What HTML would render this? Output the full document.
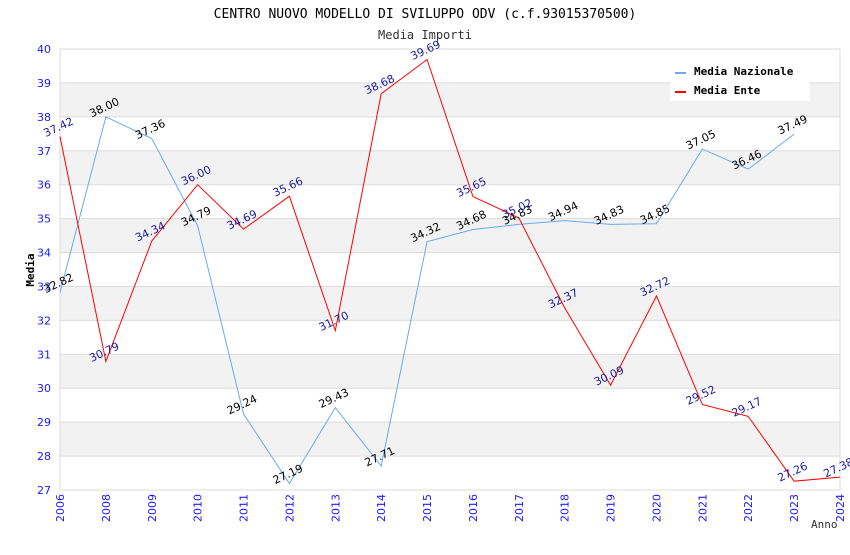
<!DOCTYPE html>
<html><head><meta charset="utf-8"><style>
body{margin:0;background:#fff;}
</style></head><body>
<svg id="chart" width="850" height="550" xmlns="http://www.w3.org/2000/svg">
<text x="425" y="18" text-anchor="middle" font-size="13" fill="#000" style="font-family:'DejaVu Sans Mono',monospace">CENTRO NUOVO MODELLO DI SVILUPPO ODV (c.f.93015370500)</text>
<text x="425" y="39" text-anchor="middle" font-size="12" fill="#333" style="font-family:'DejaVu Sans Mono',monospace">Media Importi</text>
<g id="bands"></g><g id="grid"></g><g id="axes"></g><g id="lines"></g><g id="labels"></g>
<g style="font-family:'DejaVu Sans Mono',monospace">
<rect x="670" y="58" width="140" height="43" fill="#fff"/>
<line x1="675" y1="73" x2="686" y2="73" stroke="#6aaaf0" stroke-width="2"/>
<text x="694" y="75" font-size="11" font-weight="bold">Media Nazionale</text>
<line x1="675" y1="92" x2="686" y2="92" stroke="#ff0000" stroke-width="2"/>
<text x="694" y="94" font-size="11" font-weight="bold">Media Ente</text>
</g>
<text transform="translate(34,270) rotate(-90)" text-anchor="middle" font-size="11" font-weight="bold" style="font-family:'DejaVu Sans Mono',monospace">Media</text>
<text x="811" y="528" font-size="11" fill="#333" style="font-family:'DejaVu Sans Mono',monospace">Anno</text>
</svg>
<script>
const years=["2006","2008","2009","2010","2011","2012","2013","2014","2015","2016","2017","2018","2019","2020","2021","2022","2023","2024"];
const nazionale=[32.82,38.00,37.36,34.79,29.24,27.19,29.43,27.71,34.32,34.68,34.83,34.94,34.83,34.85,37.05,36.46,37.49,null];
const ente=[37.42,30.79,34.34,36.00,34.69,35.66,31.70,38.68,39.69,35.65,35.02,32.37,30.09,32.72,29.52,29.17,27.26,27.38];
const yTicks=[27,28,29,30,31,32,33,34,35,36,37,38,39,40];
const L=60,R=840,T=49,B=490,yMin=27,yMax=40;
const ns="http://www.w3.org/2000/svg";
const xs=i=>L+i*(R-L)/(years.length-1);
const ys=v=>B-(v-yMin)/(yMax-yMin)*(B-T);
function mk(t,a,p){const e=document.createElementNS(ns,t);for(const k in a)e.setAttribute(k,a[k]);document.getElementById(p).appendChild(e);return e;}
for(let v=yMin;v<yMax;v++){if(v%2===0){const r=mk('rect',{x:L,y:ys(v+1),width:R-L,height:ys(v)-ys(v+1),fill:'#f2f2f2'},'bands');

}}
yTicks.forEach(v=>{const l=mk('line',{x1:L,x2:R,y1:ys(v),y2:ys(v),stroke:'#dcdcdc'},'grid');


const t=mk('text',{x:L-9,y:ys(v)+4,'text-anchor':'end','font-size':11,fill:'#1a1aff',style:"font-family:'DejaVu Sans',sans-serif"},'axes');t.textContent=v;

});
const fr=mk('rect',{x:L,y:T,width:R-L,height:B-T,fill:'none',stroke:'#dcdcdc'},'axes');


years.forEach((y,i)=>{const t=mk('text',{transform:`translate(${xs(i)+4},${B+4}) rotate(-90)`,'text-anchor':'end','font-size':11,fill:'#1a1aff',style:"font-family:'DejaVu Sans',sans-serif"},'axes');t.textContent=y;

});
function series(arr,col,lc,name){const pts=[];arr.forEach((v,i)=>{if(v!=null)pts.push(xs(i)+','+ys(v));});
const p=mk('polyline',{points:pts.join(' '),fill:'none',stroke:col,'stroke-width':1},'lines');


arr.forEach((v,i)=>{if(v==null)return;const t=mk('text',{transform:`translate(${xs(i)},${ys(v)-6}) rotate(-25)`,'text-anchor':'middle','font-size':11,fill:lc,style:"font-family:'DejaVu Sans',sans-serif"},'labels');t.textContent=v.toFixed(2);

});}
series(nazionale,'#6aaaf0','#000','nazionale');
series(ente,'#ff0000','#1a1a99','ente');
</script>
</body></html>
